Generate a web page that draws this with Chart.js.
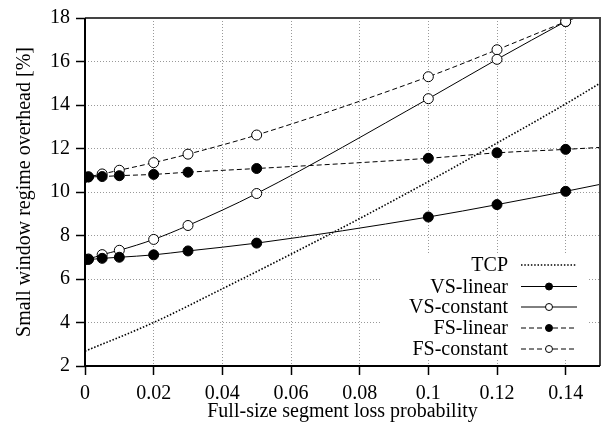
<!DOCTYPE html>
<html>
<head>
<meta charset="utf-8">
<script src="https://cdn.jsdelivr.net/npm/chart.js@4/dist/chart.umd.min.js"></script>
<style>
html,body{margin:0;padding:0;background:#fff;}
#wrap{width:606px;height:434px;position:relative;}
</style>
</head>
<body>
<div id="wrap"><canvas id="c" width="606" height="434"></canvas></div>
<script>
// ---- data ----
const xMarks = [0, 0.001, 0.005, 0.01, 0.02, 0.03, 0.05, 0.1, 0.12, 0.14];
const vsLinear   = [6.9, 6.9, 6.95, 7.0, 7.11, 7.29, 7.65, 8.85, 9.42, 10.03];
const vsConstant = [6.9, 6.92, 7.12, 7.32, 7.82, 8.46, 9.93, 14.29, 16.1, 17.84];
const fsLinear   = [10.68, 10.69, 10.71, 10.75, 10.81, 10.91, 11.08, 11.55, 11.8, 11.96];
const fsConstant = [10.68, 10.7, 10.83, 11.0, 11.35, 11.74, 12.62, 15.3, 16.54, 17.83];
// line continuation to the right edge (no marker)
const xEnd = 0.15;
const vsLinearEnd = 10.35;
const vsConstantEnd = 18.7;
const fsLinearEnd = 12.05;
const fsConstantEnd = 18.45;
const tcpX = [0, 0.02, 0.04, 0.06, 0.08, 0.1, 0.12, 0.14, 0.15];
const tcpY = [2.68, 4.0, 5.55, 7.14, 8.78, 10.48, 12.25, 14.05, 15.0];
const xTicks = [0, 0.02, 0.04, 0.06, 0.08, 0.1, 0.12, 0.14];
const yTicks = [2, 4, 6, 8, 10, 12, 14, 16, 18];
const seriesNames = ['TCP', 'VS-linear', 'VS-constant', 'FS-linear', 'FS-constant'];

function pts(xs, ys) { return xs.map((x, i) => ({x: x, y: ys[i]})); }
function withEnd(vals, endVal) { return pts(xMarks.concat([xEnd]), vals.concat([endVal])); }
function radii(n, r) { const a = new Array(n).fill(r); a.push(0); return a; }

const FONT = "'Liberation Serif', 'DejaVu Serif', serif";

const datasets = [
  {label: seriesNames[0], data: pts(tcpX, tcpY), borderColor: '#000', borderWidth: 1.6, borderDash: [1.5, 1.8],
   pointRadius: 0, fill: false, cubicInterpolationMode: 'monotone'},
  {label: seriesNames[1], data: withEnd(vsLinear, vsLinearEnd), borderColor: '#000', borderWidth: 1,
   pointRadius: radii(xMarks.length, 5), pointBackgroundColor: '#000', pointBorderColor: '#000', pointBorderWidth: 1,
   fill: false, cubicInterpolationMode: 'monotone'},
  {label: seriesNames[2], data: withEnd(vsConstant, vsConstantEnd), borderColor: '#000', borderWidth: 1,
   pointRadius: radii(xMarks.length, 5), pointBackgroundColor: '#fff', pointBorderColor: '#000', pointBorderWidth: 1,
   fill: false, cubicInterpolationMode: 'monotone'},
  {label: seriesNames[3], data: withEnd(fsLinear, fsLinearEnd), borderColor: '#000', borderWidth: 1, borderDash: [5, 3],
   pointRadius: radii(xMarks.length, 5), pointBackgroundColor: '#000', pointBorderColor: '#000', pointBorderWidth: 1,
   fill: false, cubicInterpolationMode: 'monotone'},
  {label: seriesNames[4], data: withEnd(fsConstant, fsConstantEnd), borderColor: '#000', borderWidth: 1, borderDash: [5, 3],
   pointRadius: radii(xMarks.length, 5), pointBackgroundColor: '#fff', pointBorderColor: '#000', pointBorderWidth: 1,
   fill: false, cubicInterpolationMode: 'monotone'}
];

const framePlugin = {
  id: 'frame',
  afterDraw(chart) {
    const {ctx, chartArea: a} = chart;
    ctx.save();
    ctx.setLineDash([]);
    ctx.lineWidth = 2;
    ctx.strokeStyle = '#444';
    ctx.beginPath();
    ctx.moveTo(a.left, a.top); ctx.lineTo(a.right, a.top); ctx.lineTo(a.right, a.bottom);
    ctx.stroke();
    ctx.strokeStyle = '#000';
    ctx.beginPath();
    ctx.moveTo(a.left, a.top); ctx.lineTo(a.left, a.bottom); ctx.lineTo(a.right, a.bottom);
    ctx.stroke();
    ctx.restore();
  }
};

const legendPlugin = {
  id: 'customLegend',
  afterDatasetsDraw(chart) {
    const {ctx, chartArea: a} = chart;
    const boxL = 380, boxR = a.right - 11, boxT = 253, boxB = 358;
    ctx.save();
    ctx.fillStyle = '#fff';
    ctx.fillRect(boxL, boxT, boxR - boxL, boxB - boxT);
    const textR = 508, lineL = 521, lineR = 577, mx = 549;
    const rowY = [265, 286.5, 307, 328, 349];
    ctx.font = "20px " + FONT;
    ctx.textAlign = 'right';
    ctx.textBaseline = 'middle';
    chart.data.datasets.forEach((ds, i) => {
      const y = rowY[i];
      ctx.fillStyle = '#000';
      ctx.fillText(ds.label, textR, y + 1);
      ctx.strokeStyle = '#000';
      ctx.lineWidth = ds.borderWidth;
      ctx.setLineDash(ds.borderDash || []);
      ctx.beginPath();
      ctx.moveTo(lineL, y); ctx.lineTo(lineR, y);
      ctx.stroke();
      if (i > 0) {
        ctx.setLineDash([]);
        ctx.beginPath();
        ctx.arc(mx, y, 3.5, 0, Math.PI * 2);
        ctx.fillStyle = ds.pointBackgroundColor;
        ctx.fill();
        ctx.lineWidth = 1;
        ctx.stroke();
      }
    });
    ctx.restore();
  }
};

new Chart(document.getElementById('c'), {
  type: 'line',
  data: {datasets: datasets},
  options: {
    responsive: false,
    animation: false,
    devicePixelRatio: 1,
    layout: {padding: {top: 12, right: 5, left: 0, bottom: 0}},
    plugins: {legend: {display: false}, tooltip: {enabled: false}},
    scales: {
      x: {
        type: 'linear', min: 0, max: 0.15,
        afterFit(s) { s.height = 68; },
        afterBuildTicks(s) { s.ticks = xTicks.map(v => ({value: v})); },
        ticks: {includeBounds: false, color: '#000', font: {family: FONT, size: 20}, padding: 7,
                maxRotation: 0, autoSkip: false, callback: v => String(v)},
        grid: {color: '#999', lineWidth: 1, tickLength: 9, tickColor: '#000', tickWidth: 1.5, tickBorderDash: []},
        border: {display: false, dash: [1, 2]},
        title: {display: true, text: 'Full-size segment loss probability', color: '#000',
                font: {family: FONT, size: 20}, padding: {top: 0, bottom: 10}}
      },
      y: {
        type: 'linear', min: 2, max: 18,
        afterFit(s) { s.width = 85; },
        afterBuildTicks(s) { s.ticks = yTicks.map(v => ({value: v})); },
        ticks: {color: '#000', font: {family: FONT, size: 20}, padding: 6, autoSkip: false, callback: v => String(v)},
        grid: {color: '#999', lineWidth: 1, tickLength: 9, tickColor: '#000', tickWidth: 1.5, tickBorderDash: []},
        border: {display: false, dash: [1, 2]},
        title: {display: true, text: 'Small window regime overhead [%]', color: '#000',
                font: {family: FONT, size: 20}, padding: {top: 13, bottom: 0}}
      }
    }
  },
  plugins: [legendPlugin, framePlugin]
});
</script>
</body>
</html>
